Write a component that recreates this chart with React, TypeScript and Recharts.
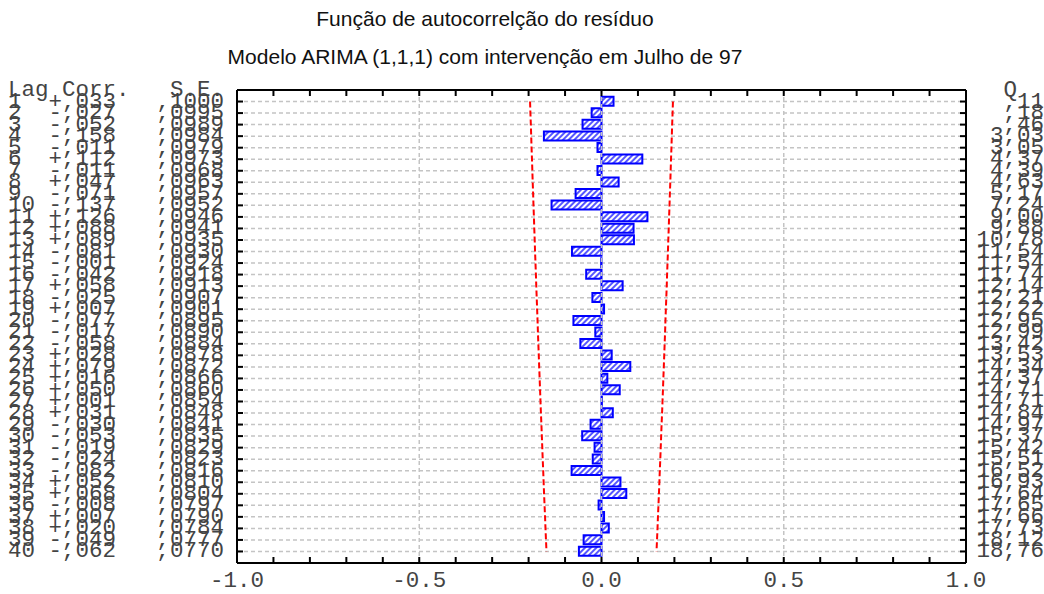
import { ComposedChart, Bar, Line, XAxis, YAxis, CartesianGrid, ReferenceLine } from 'recharts';

const lags = [
  1, 2, 3, 4, 5, 6, 7, 8, 9, 10, 11, 12, 13, 14, 15, 16, 17, 18, 19, 20,
  21, 22, 23, 24, 25, 26, 27, 28, 29, 30, 31, 32, 33, 34, 35, 36, 37, 38, 39, 40,
];

const corr = [
  0.033, -0.027, -0.052, -0.158, -0.011, 0.112, -0.011, 0.047, -0.071, -0.137,
  0.126, 0.088, 0.089, -0.081, -0.001, -0.042, 0.058, -0.025, 0.007, -0.077,
  -0.017, -0.058, 0.028, 0.079, 0.016, 0.05, 0.001, 0.031, -0.03, -0.053,
  -0.019, -0.024, -0.082, 0.052, 0.068, -0.008, 0.007, 0.02, -0.049, -0.062,
];

const stdErr = [
  0.1, 0.0995, 0.0989, 0.0984, 0.0979, 0.0973, 0.0968, 0.0963, 0.0957, 0.0952,
  0.0946, 0.0941, 0.0935, 0.093, 0.0924, 0.0918, 0.0913, 0.0907, 0.0901, 0.0895,
  0.089, 0.0884, 0.0878, 0.0872, 0.0866, 0.086, 0.0854, 0.0848, 0.0841, 0.0835,
  0.0829, 0.0823, 0.0816, 0.081, 0.0804, 0.0797, 0.079, 0.0784, 0.0777, 0.077,
];

const qStat = [
  0.11, 0.18, 0.46, 3.03, 3.05, 4.37, 4.39, 4.63, 5.17, 7.24,
  9.0, 9.88, 10.78, 11.54, 11.54, 11.74, 12.14, 12.21, 12.22, 12.95,
  12.99, 13.42, 13.53, 14.34, 14.37, 14.71, 14.71, 14.84, 14.97, 15.37,
  15.42, 15.51, 16.52, 16.93, 17.64, 17.65, 17.66, 17.73, 18.12, 18.76,
];

const xTicks = [-1, -0.9, -0.8, -0.7, -0.6, -0.5, -0.4, -0.3, -0.2, -0.1, 0, 0.1, 0.2, 0.3, 0.4, 0.5, 0.6, 0.7, 0.8, 0.9, 1];
const xLabels = [-1, -0.5, 0, 0.5, 1];
const gridX = [-0.5, 0, 0.5];
const yTicks = [0, ...lags];

const data = lags.map((lag, i) => ({
  lag,
  corr: corr[i],
  upper: 1.96 * stdErr[i],
  lower: -1.96 * stdErr[i],
}));

const MONO = '"Liberation Mono", "DejaVu Sans Mono", monospace';
const TEXT_FILL = '#444';

const fmtCorr = (v: number) =>
  `${v < 0 ? '-' : '+'},${String(Math.round(Math.abs(v) * 1000)).padStart(3, '0')}`;
const fmtSe = (v: number) => `,${String(Math.round(v * 10000)).padStart(4, '0')}`;
const fmtQ = (v: number) => v.toFixed(2).replace('.', ',').replace(/^0,/, ',');

const LeftTick = (props: any) => {
  const { x, y, payload } = props;
  const i = lags.indexOf(payload.value);
  const row =
    i < 0
      ? 'Lag Corr.   S.E.'
      : `${String(payload.value).padEnd(2)} ${fmtCorr(corr[i])}   ${fmtSe(stdErr[i])}`;
  return (
    <g>
      {i >= 0 && <line x1={x} x2={x + 6} y1={y} y2={y} stroke="#000" strokeWidth={2} />}
      <text x={x - 229} y={y + 6} fontFamily={MONO} fontSize={22.5} fill={TEXT_FILL} style={{ whiteSpace: 'pre' }}>
        {row}
      </text>
    </g>
  );
};

const RightTick = (props: any) => {
  const { x, y, payload } = props;
  const i = lags.indexOf(payload.value);
  const s = i < 0 ? '  Q  ' : fmtQ(qStat[i]).padStart(5);
  return (
    <g>
      {i >= 0 && <line x1={x - 6} x2={x} y1={y} y2={y} stroke="#000" strokeWidth={2} />}
      <text x={x + 10.5} y={y + 6} fontFamily={MONO} fontSize={22.5} fill={TEXT_FILL} style={{ whiteSpace: 'pre' }}>
        {s}
      </text>
    </g>
  );
};

const BottomTick = (props: any) => {
  const { x, y, payload } = props;
  const v = payload.value;
  const labelled = xLabels.some((l) => Math.abs(l - v) < 1e-9);
  return (
    <g>
      <line x1={x} x2={x} y1={y} y2={y - 6} stroke="#000" strokeWidth={2} />
      {labelled && (
        <text x={x} y={y + 24} textAnchor="middle" fontFamily={MONO} fontSize={22.5} fill={TEXT_FILL}>
          {v.toFixed(1)}
        </text>
      )}
    </g>
  );
};

const TopTick = (props: any) => {
  const { x, y } = props;
  return <line x1={x} x2={x} y1={y} y2={y + 6} stroke="#000" strokeWidth={2} />;
};

const titleStyle = {
  position: 'absolute' as const,
  left: 0,
  width: 970,
  textAlign: 'center' as const,
  fontFamily: '"Liberation Sans", Arial, sans-serif',
  fontSize: 21,
  lineHeight: '24px',
  color: '#111',
};

const App = () => {
  return (
    <div style={{ position: 'absolute', left: 0, top: 0, width: 1044, height: 594, background: '#fff' }}>
      <div style={{ ...titleStyle, top: 7 }}>Função de autocorrelção do resíduo</div>
      <div style={{ ...titleStyle, top: 45 }}>Modelo ARIMA (1,1,1) com intervenção em Julho de 97</div>
      <ComposedChart
        width={1044}
        height={594}
        data={data}
        layout="vertical"
        margin={{ top: 60, right: 0, bottom: 0, left: 0 }}
      >
        <defs>
          <pattern id="hatch" width="4" height="4" patternUnits="userSpaceOnUse" patternTransform="rotate(45)">
            <rect width="4" height="4" fill="#fff" />
            <line x1="1" y1="0" x2="1" y2="4" stroke="#2b2bff" strokeWidth="1.6" />
          </pattern>
        </defs>
        <CartesianGrid vertical={false} stroke="#c4c4c4" strokeWidth={1.5} strokeDasharray="4 3" />
        {gridX.map((v) => (
          <ReferenceLine key={v} x={v} stroke="#c4c4c4" strokeWidth={1.5} strokeDasharray="4 3" />
        ))}
        <XAxis
          type="number"
          domain={[-1, 1]}
          ticks={xTicks}
          interval={0}
          height={31}
          tickSize={0}
          tickMargin={0}
          tickLine={false}
          axisLine={{ stroke: '#000', strokeWidth: 2 }}
          tick={BottomTick}
          allowDataOverflow
        />
        <XAxis
          xAxisId="top"
          orientation="top"
          type="number"
          domain={[-1, 1]}
          ticks={xTicks}
          interval={0}
          height={30}
          tickSize={0}
          tickMargin={0}
          tickLine={false}
          axisLine={{ stroke: '#000', strokeWidth: 2 }}
          tick={TopTick}
          allowDataOverflow
        />
        <YAxis
          type="number"
          dataKey="lag"
          domain={[0, 41]}
          ticks={yTicks}
          interval={0}
          width={237}
          tickSize={0}
          tickMargin={0}
          tickLine={false}
          axisLine={{ stroke: '#000', strokeWidth: 2 }}
          tick={LeftTick}
          allowDataOverflow
        />
        <YAxis
          yAxisId="right"
          orientation="right"
          type="number"
          dataKey="lag"
          domain={[0, 41]}
          ticks={yTicks}
          interval={0}
          width={78}
          tickSize={0}
          tickMargin={0}
          tickLine={false}
          axisLine={{ stroke: '#000', strokeWidth: 2 }}
          tick={RightTick}
          allowDataOverflow
        />
        <Bar dataKey="corr" barSize={9} fill="url(#hatch)" stroke="#0000ff" strokeWidth={2} isAnimationActive={false} />
        <Line dataKey="upper" stroke="#ff0000" strokeWidth={2} strokeDasharray="6 3" dot={false} isAnimationActive={false} />
        <Line dataKey="lower" stroke="#ff0000" strokeWidth={2} strokeDasharray="6 3" dot={false} isAnimationActive={false} />
      </ComposedChart>
    </div>
  );
};

export default App;
